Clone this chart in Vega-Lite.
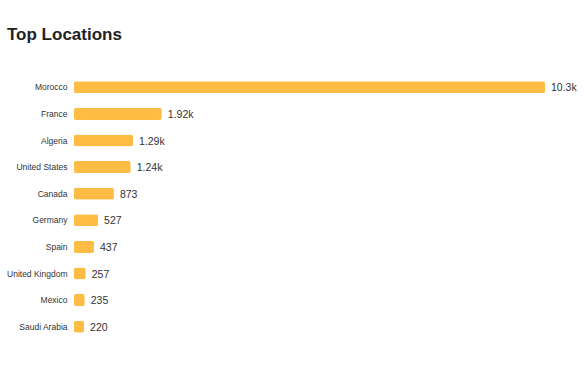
{
  "$schema": "https://vega.github.io/schema/vega-lite/v6.json",
  "autosize": "none",
  "width": 471,
  "height": 266,
  "padding": {"left": 74, "top": 74, "right": 40, "bottom": 33},
  "background": "white",
  "title": {
    "text": "Top Locations",
    "anchor": "start",
    "frame": "group",
    "dx": -67,
    "offset": 30,
    "fontSize": 17,
    "fontWeight": "bold",
    "font": "Liberation Sans",
    "color": "#222222"
  },
  "data": {
    "values": [
      {"country": "Morocco", "count": 10300},
      {"country": "France", "count": 1920},
      {"country": "Algeria", "count": 1290},
      {"country": "United States", "count": 1240},
      {"country": "Canada", "count": 873},
      {"country": "Germany", "count": 527},
      {"country": "Spain", "count": 437},
      {"country": "United Kingdom", "count": 257},
      {"country": "Mexico", "count": 235},
      {"country": "Saudi Arabia", "count": 220}
    ]
  },
  "encoding": {
    "y": {
      "field": "country",
      "type": "nominal",
      "sort": null,
      "title": null,
      "scale": {"paddingInner": 0.55, "paddingOuter": 0.275},
      "axis": {
        "ticks": false,
        "domain": false,
        "labelPadding": 7,
        "labelFontSize": 8.5,
        "labelFont": "Liberation Sans",
        "labelColor": "#333333"
      }
    },
    "x": {
      "field": "count",
      "type": "quantitative",
      "scale": {"domain": [0, 10300], "nice": false},
      "axis": null
    }
  },
  "layer": [
    {
      "mark": {"type": "bar", "color": "#FFBC45", "cornerRadius": 2}
    },
    {
      "mark": {
        "type": "text",
        "align": "left",
        "baseline": "middle",
        "dx": 6,
        "dy": 1,
        "fontSize": 10.5,
        "font": "Liberation Sans",
        "color": "#333333"
      },
      "encoding": {
        "text": {"field": "count", "type": "quantitative", "format": ".3s"}
      }
    }
  ],
  "config": {"view": {"stroke": null}}
}
